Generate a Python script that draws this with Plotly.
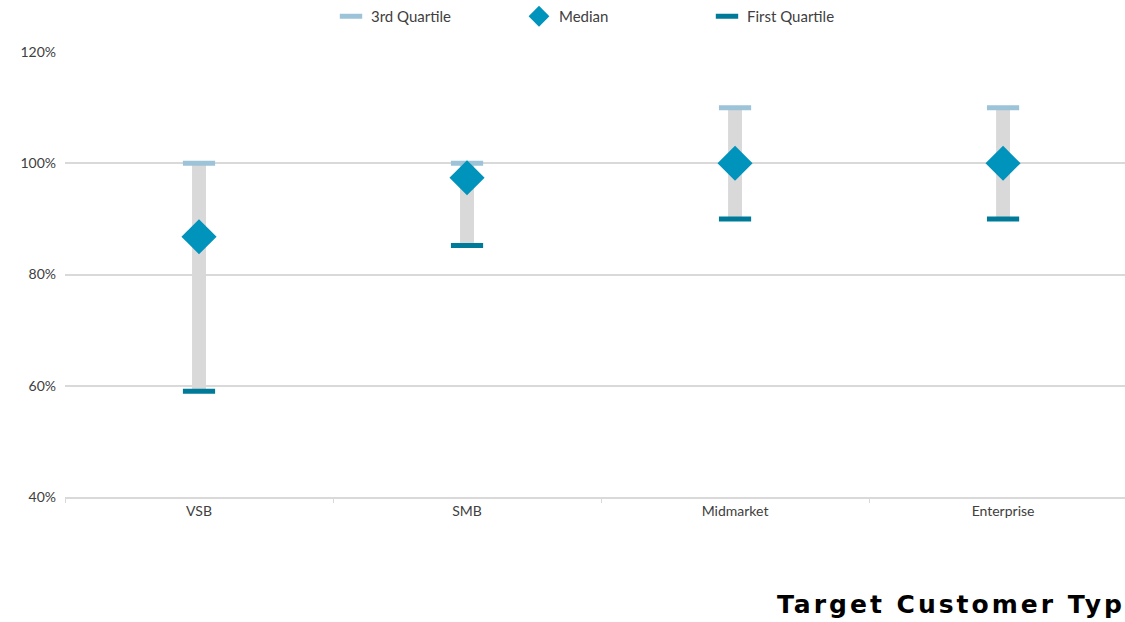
import plotly.graph_objects as go

categories = ["VSB", "SMB", "Midmarket", "Enterprise"]
q3 = [100, 100, 110, 110]
median = [86.8, 97.4, 100, 100]
q1 = [59, 85.2, 90, 90]
y_ticks = [40, 60, 80, 100, 120]
y_tick_labels = ["40%", "60%", "80%", "100%", "120%"]
x_title = "Target Customer Type"

FONT = "Lato"
TXT = "#404040"

fig = go.Figure()

fig.add_trace(go.Bar(
    x=categories, base=q1, y=[a - b for a, b in zip(q3, q1)],
    width=0.052, marker=dict(color="#D9D9D9", line=dict(width=0)),
    showlegend=False, hoverinfo="skip"))

fig.add_trace(go.Scatter(
    x=categories, y=q3, mode="markers", name="3rd Quartile",
    marker=dict(symbol="line-ew", size=23, line=dict(color="#9DC3D8", width=5))))

fig.add_trace(go.Scatter(
    x=categories, y=median, mode="markers", name="Median",
    marker=dict(symbol="diamond", size=27, color="#0093BB", line=dict(width=0))))

fig.add_trace(go.Scatter(
    x=categories, y=q1, mode="markers", name="First Quartile",
    marker=dict(symbol="line-ew", size=23, line=dict(color="#007A99", width=5))))

fig.update_layout(
    width=1125, height=622,
    margin=dict(l=65, r=0, t=50, b=125),
    paper_bgcolor="white", plot_bgcolor="white",
    font=dict(family=FONT, size=14, color=TXT),
    barmode="overlay",
    legend=dict(orientation="h", x=(331 - 65) / 1060, xanchor="left", y=1.08, yanchor="middle",
                font=dict(family=FONT, size=15, color=TXT),
                entrywidth=143, itemwidth=30, traceorder="normal"),
    xaxis=dict(range=[-0.5, 3.455], showgrid=False, showline=True, linecolor="#D9D9D9",
               linewidth=2, ticks="outside", tickson="boundaries", ticklen=4,
               tickcolor="#D9D9D9", tickwidth=1, zeroline=False,
               tickfont=dict(family=FONT, size=14, color=TXT)),
    yaxis=dict(range=[40, 120], tickvals=y_ticks, ticktext=y_tick_labels,
               showgrid=True, gridcolor="#D9D9D9", gridwidth=2, zeroline=False,
               showline=False, ticks="", ticklabelstandoff=8,
               tickfont=dict(family=FONT, size=14, color=TXT)),
    annotations=[dict(text="<b>" + x_title + "</b>", xref="paper", yref="paper",
                      x=(805 - 65) / 1060, y=-(605 - 497) / 447,
                      xanchor="left", yanchor="middle", showarrow=False,
                      font=dict(family="DejaVu Sans", size=25, color="#000000"))],
)

post = """
document.querySelectorAll('.annotation-text').forEach(function(e){e.style.letterSpacing='3px';});
"""
fig.write_html("out.html", post_script=post)
